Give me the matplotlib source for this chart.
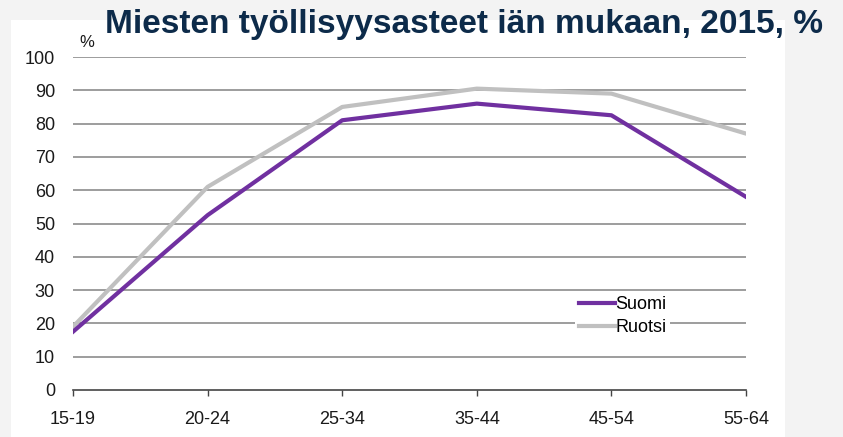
import matplotlib.pyplot as plt
import matplotlib.patches as mpatches

plt.rcParams['font.family'] = ['Liberation Sans', 'DejaVu Sans']

# ikäryhmät ja työllisyysasteet (%)
ages = ['15-19', '20-24', '25-34', '35-44', '45-54', '55-64']
suomi = [17.5, 52.5, 81, 86, 82.5, 58]
ruotsi = [19, 61, 85, 90.5, 89, 77]
yticks = [0, 10, 20, 30, 40, 50, 60, 70, 80, 90, 100]

W, H = 843, 437
fig = plt.figure(figsize=(W / 100, H / 100), dpi=100)
fig.patch.set_facecolor('#f3f3f3')

# valkoinen paneeli
fig.patches.append(mpatches.Rectangle((11 / W, 0), (785 - 11) / W, (H - 20) / H,
                                      transform=fig.transFigure, facecolor='white',
                                      edgecolor='none', zorder=-5))

ax = fig.add_axes([73 / W, 1 - 390 / H, (746 - 73) / W, (390 - 57) / H])
ax.set_facecolor('white')
x = range(len(ages))
ax.plot(x, suomi, color='#7030a0', lw=3, label='Suomi', zorder=3)
ax.plot(x, ruotsi, color='#c0c0c0', lw=3, label='Ruotsi', zorder=2)

ax.set_xlim(0, len(ages) - 1)
ax.set_ylim(0, 100)
ax.set_yticks(yticks)
ax.set_xticks(list(x))
ax.set_xticklabels(ages)
for y in yticks[1:]:
    ax.axhline(y, color='#8c8c8c', lw=1.2, zorder=1)
for s in ['top', 'right', 'left']:
    ax.spines[s].set_visible(False)
ax.spines['bottom'].set_color('#444444')
ax.spines['bottom'].set_linewidth(1.2)
ax.tick_params(axis='y', length=0, pad=13, labelsize=13, colors='#1a1a1a')
ax.tick_params(axis='x', direction='out', length=4, width=1, color='#444444',
               labelsize=13, labelcolor='#1a1a1a', pad=11)
ax.text(0.01, 1.03, '%', transform=ax.transAxes, fontsize=12, color='#1a1a1a')

leg = ax.legend(loc='lower left', bbox_to_anchor=(0.733, 0.123), frameon=True,
                fontsize=13, handlelength=2.0, handletextpad=0.0, labelspacing=0.35,
                borderpad=0.2)
leg.get_frame().set_facecolor('white')
leg.get_frame().set_edgecolor('none')
leg.get_frame().set_alpha(1)

fig.text(105 / W, 1 - 25 / H, 'Miesten työllisyysasteet iän mukaan, 2015, %',
         fontsize=24, fontweight='bold', color='#0d2b4a', va='center', ha='left')

fig.savefig('out.png', dpi=100, facecolor=fig.get_facecolor())
